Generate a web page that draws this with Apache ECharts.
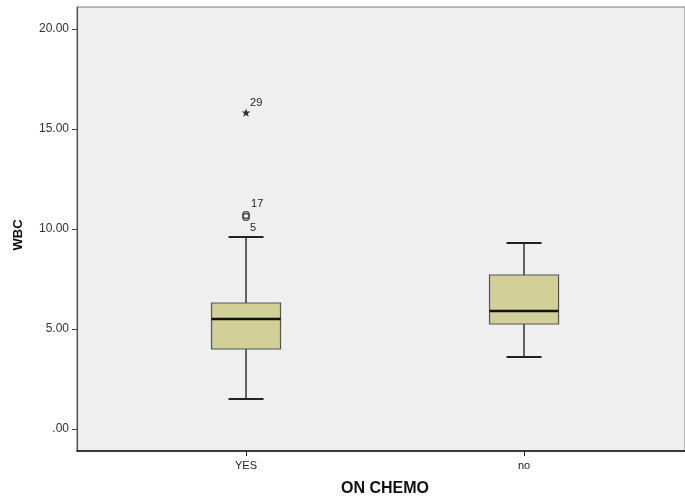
<!DOCTYPE html>
<html>
<head>
<meta charset="utf-8">
<script src="https://cdn.jsdelivr.net/npm/echarts@6/dist/echarts.min.js"></script>
<style>html,body{margin:0;padding:0;background:#fff}#c{width:685px;height:500px}</style>
</head>
<body>
<div id="c"></div>
<script>
// ---- data ----
var categories = ['YES', 'no'];
var lowerWhisker = [1.5, 3.6];
var q1 = [4.0, 5.25];
var median = [5.5, 5.9];
var q3 = [6.3, 7.7];
var upperWhisker = [9.6, 9.3];
var outlierCategory = [0, 0, 0];
var outlierValues = [10.6, 10.7, 15.8];
var outlierIds = ['5', '17', '29'];
var outlierKinds = ['circle', 'circle', 'extreme'];
var yTicks = [0, 5, 10, 15, 20];

var FONT = '"Liberation Sans", Arial, sans-serif';
var catPos = categories.map(function (c, i) { return i + 1; });

var boxData = categories.map(function (c, i) {
  return [catPos[i], lowerWhisker[i], q1[i], median[i], q3[i], upperWhisker[i]];
});
var outData = outlierValues.map(function (v, i) {
  return [catPos[outlierCategory[i]], v, i];
});
// label placement per outlier (style, not data)
var labelDy = [11, -11, -10];
var labelDx = [4, 5, 4];
var STAR = 'M0,-4.5L1.1,-1.5L4.3,-1.4L1.8,0.6L2.7,3.7L0,1.9L-2.7,3.7L-1.8,0.6L-4.3,-1.4L-1.1,-1.5Z';

var chart = echarts.init(document.getElementById('c'), null, { renderer: 'canvas' });
chart.setOption({
  animation: false,
  backgroundColor: '#ffffff',
  grid: {
    left: 77, right: -2, top: 7, bottom: 49,
    show: true, backgroundColor: '#efefef', borderColor: '#7a7a7a', borderWidth: 1
  },
  xAxis: {
    type: 'value', min: 0.392, max: 2.579,
    splitLine: { show: false },
    axisLine: { show: true, onZero: false, lineStyle: { color: '#111', width: 1.5 } },
    axisTick: { show: true, customValues: catPos, length: 5, lineStyle: { color: '#222', width: 1 } },
    axisLabel: {
      customValues: catPos, margin: 9, fontFamily: FONT, fontSize: 11, color: '#222',
      formatter: function (v) { return categories[Math.round(v) - 1] || ''; }
    }
  },
  yAxis: {
    type: 'value', min: -1.1, max: 21.1,
    splitLine: { show: false },
    axisLine: { show: true, onZero: false, lineStyle: { color: '#555', width: 1.2 } },
    axisTick: { show: true, customValues: yTicks, length: 5, lineStyle: { color: '#444' } },
    axisLabel: {
      customValues: yTicks, margin: 8, fontFamily: FONT, fontSize: 12, color: '#333',
      formatter: function (v) { return v === 0 ? '.00' : v.toFixed(2); }
    }
  },
  graphic: [
    { type: 'text', x: 18, y: 235, rotation: Math.PI / 2,
      style: { text: 'WBC', font: 'bold 13px ' + FONT, fill: '#111', align: 'center', verticalAlign: 'middle' } },
    { type: 'text', x: 385, y: 489,
      style: { text: 'ON CHEMO', font: 'bold 16px ' + FONT, fill: '#111', align: 'center', verticalAlign: 'middle' } }
  ],
  series: [
    {
      type: 'custom',
      data: boxData,
      renderItem: function (params, api) {
        var x = api.value(0);
        var pLow = api.coord([x, api.value(1)]);
        var pQ1 = api.coord([x, api.value(2)]);
        var pMed = api.coord([x, api.value(3)]);
        var pQ3 = api.coord([x, api.value(4)]);
        var pHigh = api.coord([x, api.value(5)]);
        var cx = pMed[0];
        var halfBox = 34.5, halfCap = 17.5;
        var wStyle = { stroke: '#333', lineWidth: 1.5 };
        return {
          type: 'group',
          children: [
            { type: 'line', shape: { x1: cx, y1: pQ3[1], x2: cx, y2: pHigh[1] }, style: wStyle },
            { type: 'line', shape: { x1: cx, y1: pQ1[1], x2: cx, y2: pLow[1] }, style: wStyle },
            { type: 'line', shape: { x1: cx - halfCap, y1: pHigh[1], x2: cx + halfCap, y2: pHigh[1] }, style: { stroke: '#222', lineWidth: 2 } },
            { type: 'line', shape: { x1: cx - halfCap, y1: pLow[1], x2: cx + halfCap, y2: pLow[1] }, style: { stroke: '#222', lineWidth: 2 } },
            { type: 'rect', shape: { x: cx - halfBox, y: pQ3[1], width: halfBox * 2, height: pQ1[1] - pQ3[1] },
              style: { fill: '#d3cf98', stroke: '#555', lineWidth: 1.2 } },
            { type: 'line', shape: { x1: cx - halfBox, y1: pMed[1], x2: cx + halfBox, y2: pMed[1] }, style: { stroke: '#111', lineWidth: 2.5 } }
          ]
        };
      }
    },
    {
      type: 'custom',
      data: outData,
      renderItem: function (params, api) {
        var p = api.coord([api.value(0), api.value(1)]);
        var i = api.value(2);
        var mark;
        if (outlierKinds[i] === 'extreme') {
          mark = { type: 'path', x: p[0], y: p[1],
            shape: { pathData: STAR, x: -4.3, y: -4.5, width: 8.6, height: 8.2, layout: 'center' },
            style: { fill: '#333', stroke: null } };
        } else {
          mark = { type: 'circle', shape: { cx: p[0], cy: p[1], r: 3.3 },
            style: { fill: 'none', stroke: '#444', lineWidth: 1.3 } };
        }
        return {
          type: 'group',
          children: [
            mark,
            { type: 'text', x: p[0] + labelDx[i], y: p[1] + labelDy[i],
              style: { text: outlierIds[i], font: '11px ' + FONT, fill: '#222', align: 'left', verticalAlign: 'middle' } }
          ]
        };
      }
    }
  ]
});
</script>
</body>
</html>
